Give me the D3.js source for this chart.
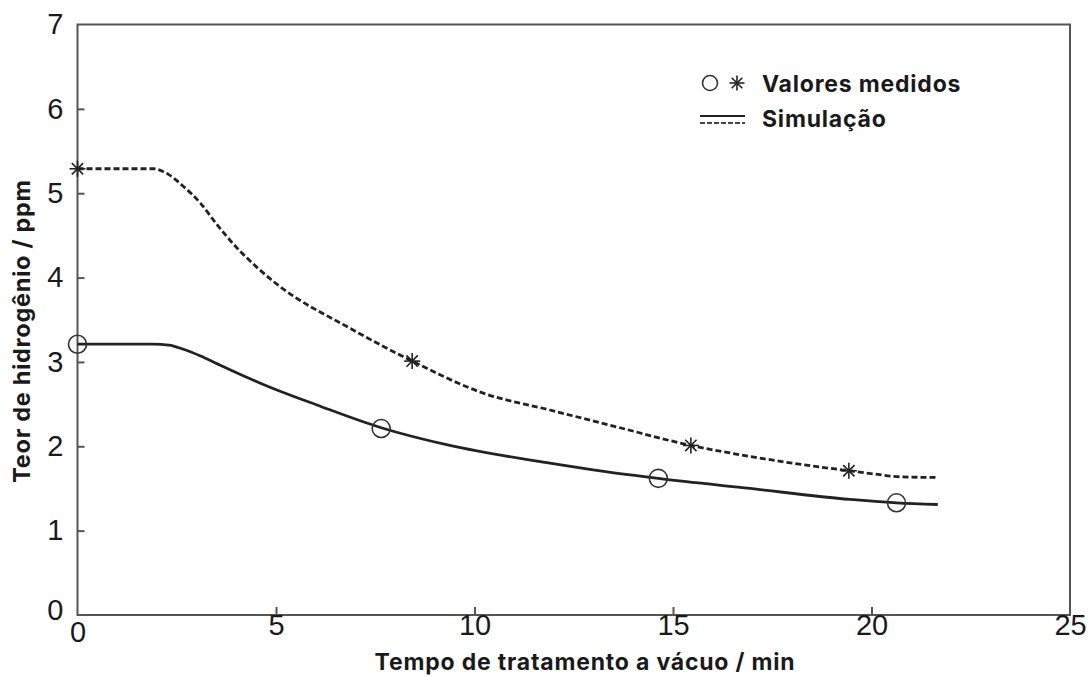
<!DOCTYPE html>
<html>
<head>
<meta charset="utf-8">
<script src="https://cdn.jsdelivr.net/npm/d3@7"></script>
<style>
  html, body { margin: 0; padding: 0; background: #fff; }
  svg { display: block; }
</style>
</head>
<body>
<svg id="chart" width="1092" height="677"></svg>
<script>
// Hydrogen content vs. vacuum treatment time
const xTicks = [0, 5, 10, 15, 20, 25];
const yTicks = [0, 1, 2, 3, 4, 5, 6, 7];

// Simulated curves (time in min, hydrogen in ppm)
const simHighT = [0, 1.91, 2.3, 2.67, 3.1, 3.51, 4.0, 4.5, 5.0, 6.86, 8.43, 10.22, 11.9, 13.58, 15.45, 16.94, 18.3, 19.43, 20.1, 20.63, 21.67];
const simHighH = [5.29, 5.29, 5.22, 5.08, 4.88, 4.63, 4.36, 4.13, 3.93, 3.40, 3.01, 2.63, 2.43, 2.23, 2.01, 1.88, 1.78, 1.71, 1.67, 1.64, 1.63];
const simLowT  = [0, 1.9, 2.3, 2.67, 3.1, 3.51, 4.35, 4.85, 6.03, 7.65, 9.38, 11.9, 13.3, 14.63, 16.94, 19.46, 20.63, 21.67];
const simLowH  = [3.21, 3.21, 3.20, 3.15, 3.07, 2.98, 2.80, 2.70, 2.49, 2.22, 2.01, 1.80, 1.70, 1.62, 1.50, 1.37, 1.33, 1.31];

// Measured values
const starT = [0, 8.43, 15.45, 19.43];
const starH = [5.29, 3.01, 2.01, 1.71];
const circT = [0, 7.65, 14.63, 20.63];
const circH = [3.21, 2.21, 1.62, 1.33];

const svg = d3.select("#chart");
const plotL = 77.5, plotR = 1070, plotT = 24.5, plotB = 615;
const x = d3.scaleLinear().domain([0, 25]).range([plotL, plotR]);
const y = d3.scaleLinear().domain([0, 7]).range([plotB, plotT]);
const ink = "#1a1a1a";
const tickFont = "'Liberation Sans', Arial, sans-serif";
const titleFont = "Inter, 'DejaVu Sans', sans-serif";

// Frame
svg.append("rect")
  .attr("x", plotL).attr("y", plotT)
  .attr("width", plotR - plotL).attr("height", plotB - plotT)
  .attr("fill", "none").attr("stroke", "#555").attr("stroke-width", 2);

// Axes with inward ticks
const yAxis = d3.axisLeft(y).tickValues(yTicks).tickSizeInner(-7).tickSizeOuter(0).tickPadding(14).tickFormat(d3.format("d"));
const gy = svg.append("g").attr("transform", `translate(${plotL},0)`).call(yAxis);
gy.select(".domain").remove();
gy.selectAll(".tick line").attr("stroke", "#555").attr("stroke-width", 2)
  .filter(d => d === 0 || d === 7).remove();
gy.selectAll(".tick text").attr("font-family", tickFont).attr("font-size", 29).attr("fill", ink)
  .attr("dy", d => d === 0 ? "0.15em" : "0.32em");

const xAxis = d3.axisBottom(x).tickValues(xTicks).tickSizeInner(-8).tickSizeOuter(0).tickPadding(14).tickFormat(d3.format("d"));
const gx = svg.append("g").attr("transform", `translate(0,${plotB})`).call(xAxis);
gx.select(".domain").remove();
gx.selectAll(".tick line").attr("stroke", "#555").attr("stroke-width", 2)
  .filter(d => d === 0 || d === 25).remove();
gx.selectAll(".tick text").attr("font-family", tickFont).attr("font-size", 29).attr("fill", ink)
  .attr("dy", d => d === 0 ? "0.45em" : "0.2em");

// Axis titles
svg.append("text")
  .attr("x", 585).attr("y", 670)
  .attr("text-anchor", "middle")
  .attr("font-family", titleFont).attr("font-weight", 700).attr("font-size", 23)
  .attr("letter-spacing", 0.8)
  .attr("fill", ink)
  .text("Tempo de tratamento a vácuo / min");

svg.append("text")
  .attr("transform", "translate(30,331) rotate(-90)")
  .attr("text-anchor", "middle")
  .attr("font-family", titleFont).attr("font-weight", 700).attr("font-size", 23.5)
  .attr("letter-spacing", 0.7)
  .attr("fill", ink)
  .text("Teor de hidrogênio / ppm");

// Simulation curves
const line = d3.line().x(d => x(d[0])).y(d => y(d[1])).curve(d3.curveMonotoneX);
svg.append("path")
  .datum(d3.zip(simHighT, simHighH))
  .attr("d", line)
  .attr("fill", "none").attr("stroke", "#222").attr("stroke-width", 2.8)
  .attr("stroke-dasharray", "6,3");
svg.append("path")
  .datum(d3.zip(simLowT, simLowH))
  .attr("d", line)
  .attr("fill", "none").attr("stroke", "#222").attr("stroke-width", 2.8);

// Asterisk marker
function asterisk(g, cx, cy, r) {
  for (let i = 0; i < 4; i++) {
    const a = i * Math.PI / 4;
    g.append("line")
      .attr("x1", cx - r * Math.cos(a)).attr("y1", cy - r * Math.sin(a))
      .attr("x2", cx + r * Math.cos(a)).attr("y2", cy + r * Math.sin(a))
      .attr("stroke", "#222").attr("stroke-width", 1.6);
  }
}

const marks = svg.append("g");
d3.zip(starT, starH).forEach(([t, h]) => asterisk(marks, x(t), y(h), 8));
marks.selectAll("circle.meas")
  .data(d3.zip(circT, circH))
  .join("circle")
  .attr("class", "meas")
  .attr("cx", d => x(d[0])).attr("cy", d => y(d[1]))
  .attr("r", 9)
  .attr("fill", "none").attr("stroke", "#333").attr("stroke-width", 1.6);

// Legend
const lg = svg.append("g");
lg.append("circle").attr("cx", 710).attr("cy", 83).attr("r", 7.5)
  .attr("fill", "none").attr("stroke", "#333").attr("stroke-width", 1.6);
asterisk(lg, 737, 83, 7.5);
lg.append("line").attr("x1", 700).attr("x2", 745).attr("y1", 116).attr("y2", 116)
  .attr("stroke", "#222").attr("stroke-width", 2);
lg.append("line").attr("x1", 700).attr("x2", 745).attr("y1", 123).attr("y2", 123)
  .attr("stroke", "#444").attr("stroke-width", 2).attr("stroke-dasharray", "5,2");
lg.append("text").attr("x", 762).attr("y", 91.5)
  .attr("font-family", titleFont).attr("font-weight", 700).attr("font-size", 23)
  .attr("letter-spacing", 0.8).attr("fill", ink)
  .text("Valores medidos");
lg.append("text").attr("x", 762).attr("y", 127)
  .attr("font-family", titleFont).attr("font-weight", 700).attr("font-size", 23)
  .attr("letter-spacing", 0.8).attr("fill", ink)
  .text("Simulação");
</script>
</body>
</html>
